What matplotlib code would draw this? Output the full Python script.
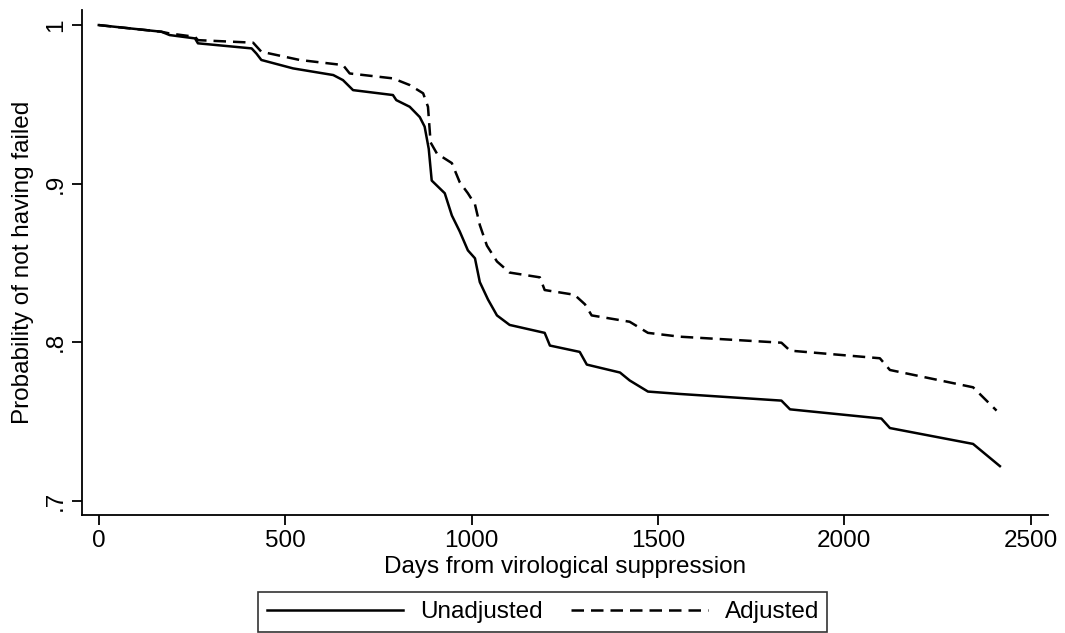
import matplotlib
matplotlib.use("Agg")
import matplotlib.pyplot as plt

plt.rcParams['font.family'] = ['Liberation Sans', 'DejaVu Sans']

# Unadjusted curve
days_unadj = [0, 168, 190, 258, 266, 410, 423, 436, 521, 629, 655, 682, 789, 798,
              834, 861, 874, 885, 893, 928, 947, 968, 990, 1009, 1022, 1044, 1068,
              1102, 1196, 1210, 1290, 1309, 1398, 1424, 1473, 1558, 1831, 1854,
              2099, 2122, 2345, 2417]
surv_unadj = [1.0, 0.9958, 0.9937, 0.9916, 0.9885, 0.9853, 0.982, 0.978, 0.9727,
              0.9685, 0.9653, 0.959, 0.9559, 0.9527, 0.9485, 0.942, 0.936, 0.922,
              0.902, 0.894, 0.880, 0.870, 0.858, 0.853, 0.838, 0.827, 0.817, 0.811,
              0.806, 0.798, 0.794, 0.786, 0.781, 0.776, 0.769, 0.7675, 0.7633,
              0.7578, 0.752, 0.746, 0.736, 0.722]

# Adjusted curve
days_adj = [0, 168, 190, 258, 266, 414, 436, 539, 655, 673, 789, 834, 870, 883,
            890, 907, 947, 968, 990, 1009, 1022, 1041, 1068, 1102, 1183, 1196,
            1276, 1304, 1322, 1424, 1473, 1558, 1831, 1854, 2095, 2122, 2345, 2408]
surv_adj = [1.0, 0.9958, 0.9947, 0.9926, 0.9905, 0.9889, 0.9832, 0.978, 0.9748,
            0.9695, 0.9664, 0.9622, 0.957, 0.9485, 0.926, 0.919, 0.913, 0.901,
            0.894, 0.887, 0.874, 0.861, 0.851, 0.844, 0.841, 0.833, 0.830, 0.824,
            0.817, 0.813, 0.806, 0.8036, 0.7998, 0.7948, 0.790, 0.7826, 0.7717,
            0.757]

xticks = [0, 500, 1000, 1500, 2000, 2500]
yticks = [0.7, 0.8, 0.9, 1.0]
ytick_labels = ['.7', '.8', '.9', '1']

W, H = 1065, 633
fig = plt.figure(figsize=(W / 100, H / 100), dpi=100)
ax = fig.add_axes([82 / W, 1 - 515 / H, (1048 - 82) / W, (515 - 10) / H])

ax.plot(days_unadj, surv_unadj, color='black', lw=1.8, solid_joinstyle='round',
        label='Unadjusted')
ax.plot(days_adj, surv_adj, color='black', lw=1.8, dashes=(5, 2.8),
        label='Adjusted')

ax.set_xlim(-45, 2546)
ax.set_ylim(0.6912, 1.0095)
ax.set_xticks(xticks)
ax.set_xticklabels([str(t) for t in xticks])
ax.set_yticks(yticks)
ax.set_yticklabels(ytick_labels, rotation=90, va='center')

for s in ['top', 'right']:
    ax.spines[s].set_visible(False)
for s in ['left', 'bottom']:
    ax.spines[s].set_linewidth(1.3)

ax.tick_params(axis='both', direction='out', length=7, width=1.3,
               labelsize=17.5, colors='black', pad=4)

ax.set_xlabel('Days from virological suppression', fontsize=17.5, labelpad=3)
ax.set_ylabel('Probability of not having failed', fontsize=17.5, labelpad=8)

leg = fig.legend(loc='center left', bbox_to_anchor=(258 / W, 1 - 612 / H), ncol=2,
                 frameon=True, fancybox=False, edgecolor='black',
                 fontsize=17.5, handlelength=5.6, columnspacing=1.2,
                 handletextpad=0.7, borderpad=0.35, borderaxespad=0)
leg.get_frame().set_linewidth(1.2)

fig.savefig('out.png', dpi=100, facecolor='white')
